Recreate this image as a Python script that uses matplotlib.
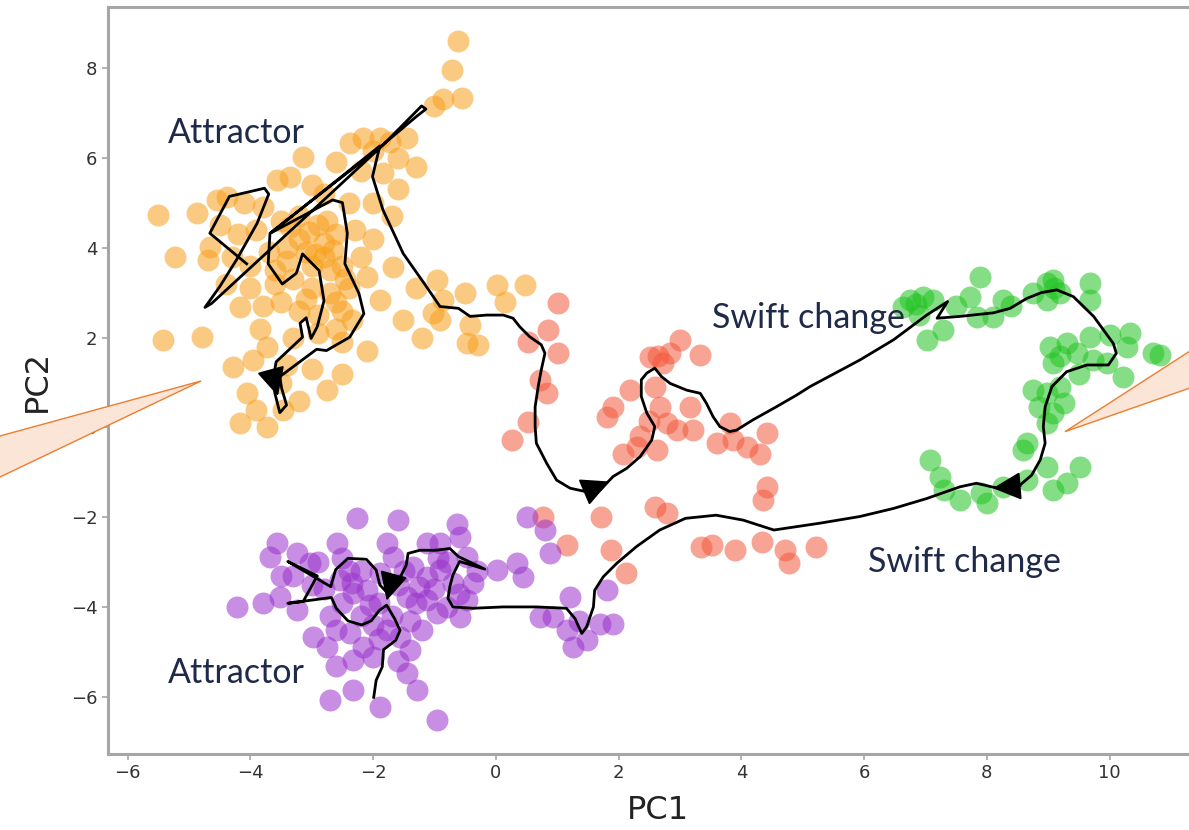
import matplotlib
matplotlib.use("Agg")
import matplotlib.pyplot as plt
from matplotlib.patches import Polygon

# scatter clusters (PC1, PC2)
orange_pts = [
    (-0.62, 8.6), (-0.72, 7.95), (-0.86, 7.3), (-0.55, 7.32), (-1.0, 7.15),
    (-2.38, 6.33), (-2.17, 6.44), (-1.89, 6.44), (-1.73, 6.35), (-1.45, 6.44),
    (-2.0, 6.15), (-1.6, 6.0), (-3.15, 6.02), (-2.6, 5.9), (-2.2, 5.7),
    (-1.84, 5.66), (-1.3, 5.8), (-1.6, 5.3), (-3.57, 5.51), (-3.36, 5.57),
    (-3.0, 5.4), (-2.8, 5.2), (-2.4, 5.0), (-2.0, 5.0), (-1.7, 4.7),
    (-5.51, 4.73), (-4.87, 4.77), (-4.55, 5.06), (-4.38, 5.13), (-4.1, 5.0),
    (-3.8, 4.9), (-4.5, 4.5), (-4.2, 4.3), (-3.9, 4.4), (-3.5, 4.6),
    (-3.2, 4.7), (-2.9, 4.5), (-2.6, 4.3), (-2.3, 4.4), (-2.0, 4.2),
    (-5.23, 3.79), (-4.69, 3.73), (-4.66, 4.02), (-4.3, 3.8), (-4.0, 3.6),
    (-3.7, 3.9), (-3.4, 3.7), (-3.1, 3.9), (-2.8, 3.8), (-2.5, 3.6),
    (-2.2, 3.8), (-1.68, 3.57), (-2.1, 3.35), (-4.4, 3.2), (-4.0, 3.1),
    (-3.6, 3.2), (-3.3, 3.3), (-3.0, 3.1), (-2.7, 3.0), (-2.4, 3.1),
    (-0.96, 3.28), (-1.3, 3.1), (-4.17, 2.68), (-3.8, 2.7), (-3.2, 2.6),
    (-2.9, 2.5), (-2.5, 2.6), (-1.89, 2.84), (-1.52, 2.39), (-0.86, 2.84),
    (-1.03, 2.55), (-1.2, 2.0), (-5.43, 1.95), (-4.78, 2.01), (-3.73, 1.79),
    (-3.3, 2.0), (-2.9, 2.1), (-2.5, 1.9), (-2.1, 1.7), (-0.47, 1.88),
    (-4.29, 1.35), (-3.96, 1.5), (-3.4, 1.4), (-3.0, 1.3), (-2.75, 0.83),
    (-2.5, 1.2), (-4.06, 0.77), (-3.47, 0.39), (-3.73, 0.01), (-4.17, 0.1),
    (-3.9, 0.4), (-3.2, 0.6), (-0.5, 3.0), (0.02, 3.17), (0.47, 3.17),
    (0.15, 2.8), (-0.42, 2.28), (-0.29, 1.84), (-0.91, 2.39), (-3.0, 3.6),
    (-2.7, 3.5), (-3.2, 4.2), (-2.8, 4.1), (-3.4, 4.0), (-3.6, 3.5),
    (-2.6, 2.8), (-3.5, 2.8), (-2.95, 3.85), (-2.65, 3.95), (-3.05, 4.35),
    (-2.75, 4.6), (-3.35, 4.45), (-2.45, 3.3), (-3.1, 2.85), (-2.35, 2.4),
    (-2.6, 2.2), (-3.5, 1.0), (-3.85, 2.2),
]

red_pts = [
    (1.01, 2.77), (0.85, 2.17), (0.52, 1.9), (1.01, 1.66), (0.72, 1.06),
    (0.83, 0.77), (0.52, 0.12), (0.26, -0.28), (3.0, 1.95), (2.84, 1.66),
    (2.51, 1.57), (2.72, 1.43), (3.33, 1.61), (2.18, 0.83), (1.91, 0.46),
    (1.81, 0.24), (2.67, 0.46), (2.79, 0.1), (2.95, -0.06), (3.16, 0.46),
    (3.21, -0.06), (2.3, -0.43), (2.07, -0.58), (2.62, -0.5), (3.6, -0.34),
    (3.86, -0.28), (4.09, -0.43), (4.3, -0.58), (4.41, -0.13), (3.81, 0.1),
    (4.41, -1.32), (4.35, -1.61), (2.59, -1.77), (2.79, -1.91), (1.72, -1.99),
    (1.87, -2.72), (2.12, -3.24), (3.34, -2.66), (3.53, -2.61), (3.9, -2.72),
    (4.34, -2.55), (4.71, -2.72), (4.78, -3.02), (5.22, -2.66), (2.5, 0.15),
    (2.6, 0.9), (2.35, -0.2), (0.77, -1.99), (1.16, -2.61), (2.65, 1.6),
]

green_pts = [
    (6.75, 2.84), (6.96, 2.91), (7.12, 2.84), (6.63, 2.68), (7.03, 1.95),
    (7.29, 2.17), (7.89, 3.35), (7.73, 2.91), (7.84, 2.46), (8.26, 2.84),
    (8.1, 2.46), (8.75, 2.99), (8.98, 3.21), (9.08, 3.28), (8.98, 2.84),
    (9.68, 3.21), (9.68, 2.84), (10.33, 2.1), (10.71, 1.65), (10.29, 1.79),
    (10.22, 1.12), (9.96, 1.43), (9.03, 1.79), (9.31, 1.88), (9.47, 1.65),
    (9.08, 1.43), (9.68, 2.01), (9.73, 1.5), (8.75, 0.83), (8.98, 0.77),
    (9.19, 0.9), (9.08, 0.32), (8.98, 0.1), (8.66, -0.34), (8.59, -0.5),
    (8.98, -0.88), (8.66, -1.17), (9.52, -0.88), (9.31, -1.24), (9.08, -1.39),
    (7.07, -0.72), (7.24, -1.1), (7.56, -1.61), (8.0, -1.68), (8.26, -1.32),
    (10.82, 1.61), (6.9, 2.5), (7.5, 2.7), (8.4, 2.7), (9.2, 3.0),
    (9.5, 1.2), (9.25, 0.55), (8.85, 0.45), (10.0, 2.05), (7.9, -1.45),
    (7.3, -1.4), (6.85, 2.75), (9.1, 3.1), (9.2, 1.6),
]

purple_pts = [
    (-2.27, -2.01), (-1.6, -2.06), (-0.64, -2.14), (-3.57, -2.57), (-3.68, -2.88),
    (-3.24, -2.8), (-3.03, -3.02), (-2.59, -2.57), (-1.78, -2.57), (-1.68, -2.88),
    (-1.12, -2.57), (-0.91, -2.57), (-0.59, -2.43), (-0.47, -2.88), (0.02, -3.17),
    (0.34, -3.02), (0.44, -3.33), (0.51, -1.99), (0.8, -2.28), (0.88, -2.8),
    (-4.22, -3.99), (-3.8, -3.91), (-3.52, -3.77), (-3.24, -4.06), (-2.54, -3.39),
    (-2.33, -3.69), (-2.1, -3.62), (-1.89, -3.24), (-1.35, -3.1), (-1.12, -3.33),
    (-0.91, -3.17), (-1.45, -3.77), (-1.12, -3.84), (-0.7, -3.46), (-0.37, -3.46),
    (-0.47, -3.84), (-0.96, -4.13), (-0.59, -4.21), (-2.98, -4.66), (-2.75, -4.88),
    (-2.38, -4.58), (-2.17, -4.88), (-2.33, -5.17), (-1.78, -4.51), (-1.56, -4.66),
    (-1.4, -4.95), (-1.45, -5.46), (-1.29, -5.84), (-2.71, -6.06), (-2.33, -5.84),
    (-1.89, -6.22), (-0.96, -6.51), (1.21, -3.77), (0.93, -4.21), (1.16, -4.51),
    (1.26, -4.88), (1.48, -4.73), (1.7, -4.36), (1.91, -4.36), (1.81, -3.62),
    (0.72, -4.21), (-2.8, -3.6), (-2.5, -3.9), (-2.2, -4.2), (-1.9, -3.9),
    (-1.6, -3.5), (-1.3, -3.9), (-1.0, -3.6), (-0.8, -4.0), (-1.7, -4.2),
    (-2.0, -4.4), (-3.0, -3.5), (-2.7, -4.2), (-1.4, -4.3), (-3.3, -3.3),
    (-2.9, -3.0), (-2.2, -3.2), (-1.5, -3.2), (-0.8, -3.0), (-0.3, -3.2),
    (-2.5, -2.9), (-3.5, -3.3), (-2.6, -4.5), (-1.9, -4.7), (-1.2, -4.5),
    (-2.0, -5.1), (-1.6, -5.2), (-2.6, -5.3), (-2.4, -3.2), (-2.35, -3.45),
    (-2.05, -3.95), (-1.25, -3.55), (-0.95, -2.9), (-0.6, -3.7), (1.35, -4.3),
]

# trajectory through state space
path_pts = [
    # orange attractor
    (-4.06, 3.64), (-4.66, 4.32), (-4.34, 5.14), (-3.77, 5.32), (-3.70, 5.19),
    (-3.89, 4.54), (-4.22, 3.74), (-4.50, 3.13), (-4.74, 2.67), (-4.63, 2.76),
    (-2.92, 4.91), (-1.84, 6.28), (-1.21, 7.15), (-1.14, 7.08), (-1.29, 6.92),
    (-1.89, 6.23), (-3.68, 4.32), (-3.71, 3.64), (-3.48, 3.19), (-3.25, 3.43),
    (-3.15, 3.86), (-2.88, 3.49), (-2.80, 2.82), (-2.91, 2.24), (-3.01, 1.98),
    (-3.09, 2.44), (-3.19, 2.32), (-3.15, 2.01), (-3.58, 1.46), (-3.63, 1.06),
    (-3.60, 0.76), (-3.52, 0.33), (-3.41, 0.50), (-3.49, 0.87), (-3.52, 1.13),
    (-2.92, 1.74), (-2.76, 1.71), (-2.38, 2.01), (-2.15, 2.53), (-2.23, 2.98),
    (-2.46, 3.64), (-2.42, 4.32), (-2.50, 5.00), (-2.66, 5.06), (-3.66, 4.33),
    (-1.89, 6.26), (-2.01, 5.58), (-1.84, 4.84), (-1.51, 3.87), (-1.13, 3.13),
    (-0.91, 2.69), (-0.61, 2.65), (-0.42, 2.47),
    # red
    (-0.15, 2.50), (0.12, 2.50), (0.28, 2.43), (0.39, 2.24), (0.55, 2.02),
    (0.74, 1.84), (0.80, 1.65), (0.74, 1.28), (0.69, 0.91), (0.64, 0.46),
    (0.64, 0.02), (0.66, -0.35), (0.83, -0.80), (0.99, -1.17), (1.21, -1.35),
    (1.48, -1.43), (1.70, -1.39), (1.91, -1.09), (2.13, -0.91), (2.35, -0.65),
    (2.54, -0.28), (2.59, 0.02), (2.46, 0.32), (2.37, 0.69), (2.37, 1.06),
    (2.46, 1.21), (2.59, 1.32), (2.70, 1.13), (2.84, 0.98), (3.11, 0.83),
    (3.33, 0.76), (3.43, 0.54), (3.54, 0.24), (3.65, 0.02), (3.81, -0.09),
    (3.92, -0.06), (4.19, 0.17), (4.57, 0.46), (4.90, 0.72), (5.12, 0.91),
    # first swift change, green loop
    (5.93, 1.50), (6.48, 1.95), (7.02, 2.50), (7.36, 2.80), (7.19, 2.43),
    (7.56, 2.47), (8.11, 2.55), (8.38, 2.65), (8.65, 2.87), (8.89, 3.00),
    (9.14, 3.06), (9.41, 2.91), (9.74, 2.47), (10.06, 1.87), (10.11, 1.65),
    (9.98, 1.39), (9.63, 1.39), (9.30, 1.24), (9.06, 0.91), (8.95, 0.46),
    (8.92, 0.02), (8.95, -0.35), (8.87, -0.72), (8.73, -1.06), (8.54, -1.28),
    (8.32, -1.39), (8.11, -1.33), (7.83, -1.24), (7.56, -1.32), (7.02, -1.58),
    (6.48, -1.80),
    # second swift change
    (5.93, -1.98), (5.27, -2.13), (4.53, -2.28), (4.28, -2.17), (4.03, -2.06),
    (3.59, -1.95), (3.09, -2.02), (2.67, -2.28), (2.29, -2.65), (1.97, -3.02),
    (1.75, -3.32), (1.61, -3.62), (1.59, -3.99), (1.48, -4.43), (1.40, -4.58),
    (1.29, -4.25), (1.15, -4.02), (0.66, -3.99), (0.12, -3.99), (-0.37, -4.02),
    # purple attractor
    (-0.70, -3.99), (-0.78, -3.80), (-0.75, -3.54), (-0.70, -3.28), (-0.59, -2.98),
    (-0.18, -3.15), (-0.61, -2.87), (-0.75, -2.69), (-0.97, -2.73), (-1.24, -2.73),
    (-1.43, -2.80), (-1.46, -3.06), (-1.54, -3.28), (-1.67, -3.62), (-1.76, -3.69),
    (-1.89, -3.50), (-1.95, -3.17), (-2.11, -2.93), (-2.41, -2.91), (-2.61, -3.16),
    (-2.69, -3.54), (-3.39, -2.98), (-2.91, -3.30), (-3.14, -3.87), (-3.39, -3.91),
    (-2.68, -3.78), (-2.60, -4.02), (-2.41, -4.30), (-2.19, -4.39), (-2.03, -4.30),
    (-1.90, -4.07), (-1.78, -3.95), (-1.65, -4.25), (-1.56, -4.51), (-1.63, -4.73),
    (-1.83, -4.94), (-1.85, -5.32), (-1.95, -5.62), (-1.99, -6.00),
]

# arrow heads on the trajectory: (tail, tip)
arrows = [
    ((-3.62, 1.05), (-3.55, 0.70)),
    ((1.45, -1.43), (1.85, -1.20)),
    ((8.55, -1.30), (8.10, -1.35)),
    ((-1.70, -3.45), (-1.78, -3.85)),
]

labels = [
    ("Attractor", -5.35, 6.33),
    ("Attractor", -5.35, -5.69),
    ("Swift change", 3.52, 2.21),
    ("Swift change", 6.06, -3.21),
]

fig = plt.figure(figsize=(11.89, 8.30), dpi=100)
ax = fig.add_axes([0.0908, 0.0916, 0.925, 0.8994])

for pts, col in [(orange_pts, "#F9A01B"), (red_pts, "#F4593C"),
                 (green_pts, "#22C322"), (purple_pts, "#9A32CC")]:
    xs, ys = zip(*pts)
    ax.scatter(xs, ys, s=250, color=col, alpha=0.55, linewidths=0, zorder=2)

px, py = zip(*path_pts)
ax.plot(px, py, color="black", lw=2.0, zorder=3)

for tail, tip in arrows:
    ax.annotate("", xy=tip, xytext=tail,
                arrowprops=dict(arrowstyle="-|>,head_length=0.7,head_width=0.35",
                                mutation_scale=25, color="black", lw=1.5,
                                shrinkA=0, shrinkB=0), zorder=4)

for txt, x, y in labels:
    ax.text(x, y, txt, fontsize=24.5, family="Lato", color="#1F2A48",
            ha="left", va="baseline", zorder=5)

ax.set_xlim(-6.32, 11.6)
ax.set_ylim(-7.26, 9.34)
ax.set_xticks([-6, -4, -2, 0, 2, 4, 6, 8, 10])
ax.set_yticks([-6, -4, -2, 0, 2, 4, 6, 8])
for sp in ax.spines.values():
    sp.set_color("#a6a6a6")
    sp.set_linewidth(2.2)
ax.tick_params(colors="#a6a6a6", labelcolor="#333333", labelsize=13,
               length=4, width=1.2)
ax.set_xlabel("PC1", fontsize=23, color="#222222", labelpad=9)
ax.set_ylabel("PC2", fontsize=23, color="#222222", labelpad=13)

# speech-bubble pointers from the slide
left_tip = Polygon([(0.1691, 0.541), (-0.02, 0.4669), (-0.02, 0.4116)],
                   closed=True, facecolor="#FBE5D6", edgecolor="#ED7D31",
                   lw=1.0, transform=fig.transFigure, zorder=10)
right_tip = Polygon([(0.8957, 0.4799), (1.02, 0.5948), (1.02, 0.5422)],
                    closed=True, facecolor="#FBE5D6", edgecolor="#ED7D31",
                    lw=1.0, transform=fig.transFigure, zorder=10)
fig.add_artist(left_tip)
fig.add_artist(right_tip)

fig.savefig("out.png", dpi=100)
